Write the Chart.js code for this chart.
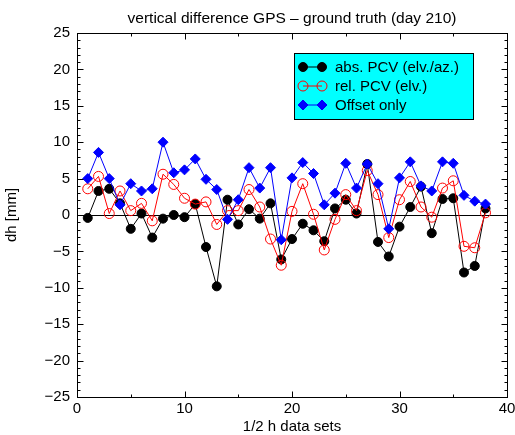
<!DOCTYPE html>
<html>
<head>
<meta charset="utf-8">
<script src="https://cdn.jsdelivr.net/npm/chart.js@4"></script>
<style>
  body { margin: 0; background: #fff; }
  #wrap { width: 515px; height: 435px; }
</style>
</head>
<body>
<div id="wrap"><canvas id="dhChart" width="515" height="435"></canvas></div>
<script>
const sets = [1, 2, 3, 4, 5, 6, 7, 8, 9, 10, 11, 12, 13, 14, 15, 16, 17, 18, 19, 20,
              21, 22, 23, 24, 25, 26, 27, 28, 29, 30, 31, 32, 33, 34, 35, 36, 37, 38];
const absPcv = [-0.4, 3.3, 3.6, 1.6, -1.9, 0.2, -3.1, -0.5, 0.0, -0.3, 1.5, -4.4, -9.8, 2.1, -1.3, 0.8, -0.5, 1.6, -6.1, -3.3,
                -1.2, -2.1, -3.6, 0.9, 2.1, 0.2, 7.0, -3.7, -5.7, -1.6, 1.1, 3.9, -2.5, 2.2, 2.3, -7.9, -7.0, 0.9];
const relPcv = [3.6, 5.3, 0.2, 3.3, 0.6, 1.6, -0.8, 5.6, 4.2, 2.3, 1.5, 1.8, -1.3, 0.6, 0.6, 3.5, 1.1, -3.3, -6.9, 0.5,
                4.3, 0.1, -4.8, -0.6, 2.8, 0.6, 6.1, 2.8, -3.1, 2.1, 4.6, 1.1, -0.3, 3.7, 4.7, -4.3, -4.5, 0.3];
const offsetOnly = [5.0, 8.6, 5.0, 1.4, 4.3, 3.3, 3.6, 10.0, 5.8, 6.2, 7.7, 4.9, 3.5, -0.6, 2.1, 6.5, 3.7, 6.5, -3.4, 5.1,
                    7.2, 5.7, 1.4, 3.0, 7.1, 3.7, 7.0, 4.3, -1.9, 5.1, 7.3, 4.0, 3.3, 7.3, 7.1, 2.7, 1.9, 1.5];
const seriesNames = ['abs. PCV (elv./az.)', 'rel. PCV (elv.)', 'Offset only'];
const xTicks = [0, 10, 20, 30, 40];
const yTicks = [-25, -20, -15, -10, -5, 0, 5, 10, 15, 20, 25];

const FONT = '"Liberation Sans", Arial, Helvetica, sans-serif';

function toPoints(vals) {
    return sets.map((x, i) => ({ x: x, y: vals[i] }));
}

function minusLabel(v) {
    return v < 0 ? '\u2212' + Math.abs(v) : String(v);
}

// frame, inward ticks, zero line, title and the cyan legend box
const gnuplotLook = {
    id: 'gnuplotLook',
    beforeDatasetsDraw(chart) {
        const { ctx, chartArea: a, scales } = chart;
        const y0 = scales.y.getPixelForValue(0);
        ctx.save();
        ctx.strokeStyle = '#000';
        ctx.lineWidth = 1;
        ctx.beginPath();
        ctx.moveTo(a.left, Math.round(y0) + 0.5);
        ctx.lineTo(a.right, Math.round(y0) + 0.5);
        ctx.stroke();
        ctx.restore();
    },
    afterDraw(chart) {
        const { ctx, chartArea: a, scales } = chart;
        ctx.save();
        ctx.strokeStyle = '#000';
        ctx.lineWidth = 1;
        const L = Math.round(a.left) + 0.5, R = Math.round(a.right) + 0.5;
        const T = Math.round(a.top) + 0.5, B = Math.round(a.bottom) + 0.5;
        ctx.strokeRect(L, T, R - L, B - T);

        ctx.beginPath();
        for (let v = -25; v <= 25; v++) {
            const len = v % 5 === 0 ? 6 : 3;
            const py = Math.round(scales.y.getPixelForValue(v)) + 0.5;
            ctx.moveTo(L, py); ctx.lineTo(L + len, py);
            ctx.moveTo(R, py); ctx.lineTo(R - len, py);
        }
        for (let v = 0; v <= 40; v += 5) {
            const len = v % 10 === 0 ? 6 : 3;
            const px = Math.round(scales.x.getPixelForValue(v)) + 0.5;
            ctx.moveTo(px, B); ctx.lineTo(px, B - len);
            ctx.moveTo(px, T); ctx.lineTo(px, T + len);
        }
        ctx.stroke();

        // title
        ctx.fillStyle = '#000';
        ctx.font = '15.5px ' + FONT;
        ctx.textAlign = 'center';
        ctx.textBaseline = 'middle';
        ctx.fillText('vertical difference GPS \u2013 ground truth (day 210)', (a.left + a.right) / 2, 19);

        // legend
        const bx = 294.5, by = 53.5, bw = 179, bh = 66;
        ctx.fillStyle = '#00ffff';
        ctx.fillRect(bx, by, bw, bh);
        ctx.strokeRect(bx, by, bw, bh);
        const rowsY = [67, 86, 105];
        chart.data.datasets.forEach((ds, i) => {
            const yy = rowsY[i];
            const x1 = 303, x2 = 322;
            ctx.strokeStyle = ds.borderColor;
            ctx.lineWidth = 1;
            ctx.beginPath();
            ctx.moveTo(x1, yy); ctx.lineTo(x2, yy);
            ctx.stroke();
            [x1, x2].forEach(px => {
                ctx.fillStyle = ds.pointBackgroundColor;
                ctx.strokeStyle = ds.pointBorderColor;
                ctx.lineWidth = ds.pointBorderWidth;
                ctx.beginPath();
                if (ds.pointStyle === 'rectRot') {
                    const r = ds.pointRadius;
                    ctx.moveTo(px - r, yy); ctx.lineTo(px, yy - r);
                    ctx.lineTo(px + r, yy); ctx.lineTo(px, yy + r);
                    ctx.closePath();
                } else {
                    ctx.arc(px, yy, ds.pointRadius, 0, Math.PI * 2);
                }
                ctx.fill();
                ctx.stroke();
            });
            ctx.fillStyle = '#000';
            ctx.font = '15px ' + FONT;
            ctx.textAlign = 'left';
            ctx.textBaseline = 'middle';
            ctx.fillText(ds.label, 335, yy + 1);
        });
        ctx.restore();
    }
};

const ctx = document.getElementById('dhChart').getContext('2d');
const dhChart = new Chart(ctx, {
    type: 'scatter',
    data: {
        datasets: [{
            label: seriesNames[0],
            data: toPoints(absPcv),
            showLine: true,
            borderColor: '#000000',
            borderWidth: 1,
            pointStyle: 'circle',
            pointRadius: 4.5,
            pointBorderWidth: 1,
            pointBackgroundColor: '#000000',
            pointBorderColor: '#000000',
            order: 3
        }, {
            label: seriesNames[1],
            data: toPoints(relPcv),
            showLine: true,
            borderColor: '#ff0000',
            borderWidth: 1,
            pointStyle: 'circle',
            pointRadius: 5,
            pointBorderWidth: 1,
            pointBackgroundColor: 'rgba(0,0,0,0)',
            pointBorderColor: '#ff0000',
            order: 2
        }, {
            label: seriesNames[2],
            data: toPoints(offsetOnly),
            showLine: true,
            borderColor: '#0000ff',
            borderWidth: 1,
            pointStyle: 'rectRot',
            pointRadius: 5,
            pointBorderWidth: 1,
            pointBackgroundColor: '#0000ff',
            pointBorderColor: '#0000ff',
            order: 1
        }]
    },
    options: {
        responsive: false,
        animation: false,
        events: [],
        layout: { padding: { top: 33, right: 8, left: 0, bottom: 0 } },
        plugins: { legend: { display: false }, tooltip: { enabled: false } },
        scales: {
            x: {
                type: 'linear',
                min: 0, max: 40,
                afterBuildTicks: (s) => { s.ticks = xTicks.map(v => ({ value: v })); },
                afterFit: (s) => { s.height = 38; s.paddingLeft = 0; s.paddingRight = 0; },
                grid: { display: false, drawTicks: false },
                border: { display: false },
                ticks: { color: '#000', padding: 3, font: { family: FONT, size: 15 }, maxRotation: 0 },
                title: { display: true, text: '1/2 h data sets', color: '#000',
                         font: { family: FONT, size: 15 }, padding: { top: 0, bottom: -1 } }
            },
            y: {
                min: -25, max: 25,
                afterBuildTicks: (s) => { s.ticks = yTicks.map(v => ({ value: v })); },
                afterFit: (s) => { s.width = 77; s.paddingTop = 0; s.paddingBottom = 0; },
                grid: { display: false, drawTicks: false },
                border: { display: false },
                ticks: { color: '#000', padding: 7, font: { family: FONT, size: 15 }, callback: minusLabel },
                title: { display: true, text: 'dh [mm]', color: '#000',
                         font: { family: FONT, size: 15 }, padding: { top: 3, bottom: 0 } }
            }
        }
    },
    plugins: [gnuplotLook]
});
</script>
</body>
</html>
